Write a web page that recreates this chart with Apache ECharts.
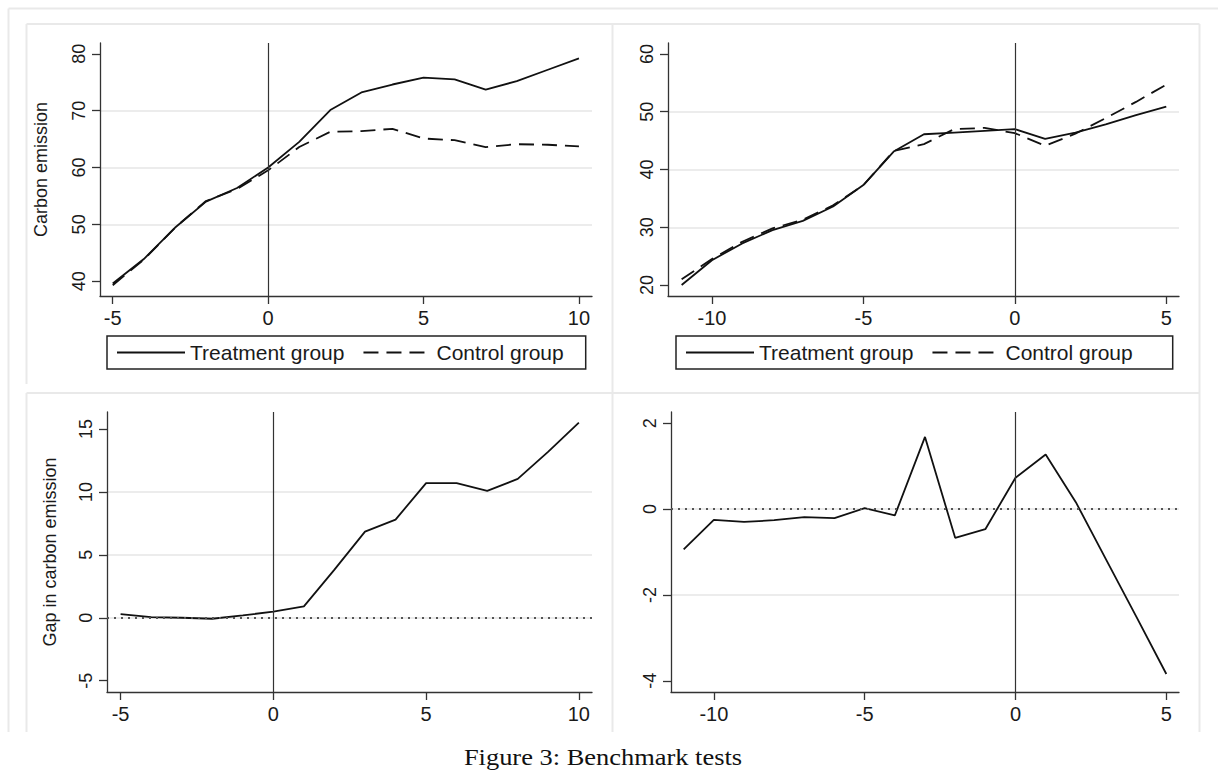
<!DOCTYPE html>
<html><head><meta charset="utf-8">
<script src="https://cdn.jsdelivr.net/npm/echarts@6/dist/echarts.min.js"></script>
<style>html,body{margin:0;padding:0;background:#fff}#c{width:1218px;height:774px}</style>
</head><body><div id="c"></div>
<script>
// ---- data ----
const yearsA = [-5,-4,-3,-2,-1,0,1,2,3,4,5,6,7,8,9,10];
const treatA = [39.6,43.9,49.4,54.0,56.4,60.0,64.5,70.1,73.2,74.6,75.8,75.5,73.7,75.2,77.2,79.2];
const ctrlA  = [39.3,43.8,49.4,54.1,56.2,59.5,63.6,66.3,66.4,66.8,65.1,64.8,63.6,64.1,64.0,63.7];
const gapA   = [0.29,0.05,0.0,-0.08,0.19,0.48,0.9,3.82,6.84,7.8,10.7,10.7,10.08,11.03,13.2,15.5];

const yearsB = [-11,-10,-9,-8,-7,-6,-5,-4,-3,-2,-1,0,1,2,3,4,5];
const treatB = [20.0,24.3,27.2,29.5,31.1,33.6,37.3,43.1,46.1,46.4,46.7,47.0,45.3,46.4,47.8,49.4,50.9];
const ctrlB  = [21.0,24.5,27.5,29.8,31.3,33.8,37.3,43.2,44.4,47.0,47.2,46.3,44.1,46.2,48.9,51.7,54.7];
const gapB   = [-0.94,-0.25,-0.30,-0.26,-0.19,-0.21,0.02,-0.15,1.68,-0.67,-0.47,0.73,1.27,0.16,-1.17,-2.5,-3.84];

const xTicksA = [-5,0,5,10];
const xTicksB = [-10,-5,0,5];
const yTicks1 = [40,50,60,70,80];
const yTicks2 = [20,30,40,50,60];
const yTicks3 = [-5,0,5,10,15];
const yTicks4 = [-4,-2,0,2];

const nameTreat = 'Treatment group';
const nameCtrl = 'Control group';
const yTitle1 = 'Carbon emission';
const yTitle3 = 'Gap in carbon emission';
const caption = 'Figure 3: Benchmark tests';

// ---- helpers ----
const SANS = '"Liberation Sans", Arial, sans-serif';
const INK = '#1a1a1a';
const pairs = (xs, ys) => xs.map((x, i) => [x, ys[i]]);

function xAx(gi, min, max, ticks) {
  return {
    type: 'value', gridIndex: gi, min: min, max: max,
    axisLine: { show: true, onZero: false, lineStyle: { color: '#333', width: 1.3 } },
    axisTick: { show: true, inside: false, length: 8, lineStyle: { color: '#333', width: 1.3 }, customValues: ticks },
    axisLabel: { customValues: ticks, margin: 12, fontSize: 20, fontFamily: SANS, color: INK },
    splitLine: { show: false }
  };
}
function yAx(gi, min, max, ticks, title, gap) {
  return {
    type: 'value', gridIndex: gi, min: min, max: max,
    name: title || '', nameLocation: 'middle', nameGap: gap || 0, nameRotate: 90,
    nameTextStyle: { fontSize: 18, fontFamily: SANS, color: INK },
    axisLine: { show: true, onZero: false, lineStyle: { color: '#333', width: 1.3 } },
    axisTick: { show: true, inside: false, length: 8, lineStyle: { color: '#333', width: 1.3 }, customValues: ticks },
    axisLabel: { customValues: ticks, rotate: 90, margin: 12, fontSize: 18, fontFamily: SANS, color: INK },
    splitLine: { show: true, showMinLine: false, showMaxLine: false, lineStyle: { color: '#e6e6e6', width: 1.5 } }
  };
}
const vLine = { xAxis: 0, lineStyle: { type: 'solid', color: '#333', width: 1.2 } };
const zLine = { yAxis: 0, lineStyle: { type: [2, 5], color: '#555', width: 2 } };
function mk(lines) {
  return { silent: true, symbol: 'none', label: { show: false }, data: lines };
}
function line(name, gi, xs, ys, dashed, marks) {
  const s = {
    type: 'line', name: name, xAxisIndex: gi, yAxisIndex: gi,
    data: pairs(xs, ys), symbol: 'none', showSymbol: false,
    lineStyle: { color: '#111', width: 1.8, type: dashed ? [15, 8] : 'solid' },
    itemStyle: { color: '#111' },
    z: 3
  };
  if (marks) s.markLine = mk(marks);
  return s;
}
function legend(left, padRight) {
  return {
    left: left, top: 336, orient: 'horizontal',
    data: [nameTreat, nameCtrl],
    itemWidth: 68, itemHeight: 14, itemGap: 18,
    padding: [6, padRight, 6, 9],
    borderColor: '#222', borderWidth: 1.5, backgroundColor: '#fff',
    itemStyle: { color: 'rgba(0,0,0,0)', borderWidth: 0, opacity: 0 },
    textStyle: { fontSize: 21, fontFamily: SANS, color: INK },
    selectedMode: false
  };
}
function hl(x1, y1, x2, y2) {
  return { type: 'line', silent: true, z: -1,
    shape: { x1: x1, y1: y1, x2: x2, y2: y2 },
    style: { stroke: '#e9e9e9', lineWidth: 2 } };
}

const chart = echarts.init(document.getElementById('c'), null, { renderer: 'svg' });
chart.setOption({
  animation: false,
  backgroundColor: '#fff',
  grid: [
    { left: 100, top: 43, width: 492, height: 253, outerBoundsMode: 'none' },
    { left: 668, top: 43, width: 511, height: 253, outerBoundsMode: 'none' },
    { left: 107, top: 412, width: 485, height: 280, outerBoundsMode: 'none' },
    { left: 671, top: 412, width: 508, height: 280, outerBoundsMode: 'none' }
  ],
  xAxis: [
    xAx(0, -5.41, 10.42, xTicksA),
    xAx(1, -11.45, 5.42, xTicksB),
    xAx(2, -5.445, 10.43, xTicksA),
    xAx(3, -11.42, 5.42, xTicksB)
  ],
  yAxis: [
    yAx(0, 37.4, 81.9, yTicks1, yTitle1, 50),
    yAx(1, 18.1, 61.9, yTicks2),
    yAx(2, -5.9, 16.35, yTicks3, yTitle3, 48),
    yAx(3, -4.26, 2.26, yTicks4)
  ],
  legend: [legend(107, 22), legend(676, 40)],
  series: [
    line(nameTreat, 0, yearsA, treatA, false, [vLine]),
    line(nameCtrl, 0, yearsA, ctrlA, true),
    line(nameTreat, 1, yearsB, treatB, false, [vLine]),
    line(nameCtrl, 1, yearsB, ctrlB, true),
    line('gapA', 2, yearsA, gapA, false, [vLine, zLine]),
    line('gapB', 3, yearsB, gapB, false, [vLine, zLine])
  ],
  graphic: [
    hl(8.5, 8.5, 1218, 8.5),
    hl(8.5, 8.5, 8.5, 732),
    hl(26.5, 24, 1199.5, 24),
    hl(26.5, 24, 26.5, 384),
    hl(26.5, 393, 26.5, 732),
    hl(26.5, 393, 1199.5, 393),
    hl(612.5, 24, 612.5, 732),
    hl(1199.5, 24, 1199.5, 732),
    { type: 'text', x: 603, y: 757, scaleX: 1.15, silent: true,
      style: { text: caption, x: 0, y: 0, align: 'center', verticalAlign: 'middle',
        font: '23px "Liberation Serif", "Times New Roman", serif', fill: '#111' } }
  ]
});
</script></body></html>
